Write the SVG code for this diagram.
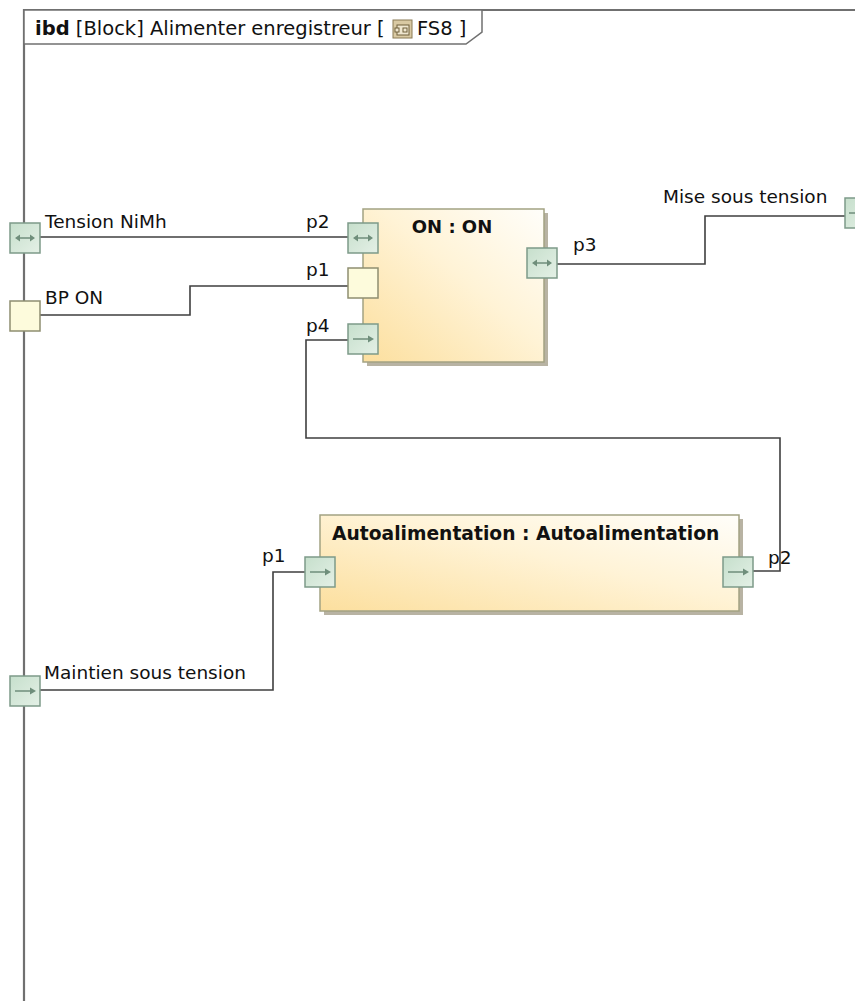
<svg xmlns="http://www.w3.org/2000/svg" width="855" height="1001" viewBox="0 0 855 1001">
<style>
.t{font-family:"DejaVu Sans",Verdana,sans-serif;font-size:18.5px;fill:#111}
.b{font-family:"DejaVu Sans",Verdana,sans-serif;font-size:18px;font-weight:bold;fill:#111}
.frame{fill:none;stroke:#707070;stroke-width:2.2}
.blk{stroke:#a3a283;stroke-width:1.5}
.shadow{fill:#b8b3a3}
.pg{fill:url(#pg);stroke:#7d9a89;stroke-width:1.5}
.py{fill:#fdfbdc;stroke:#8e8e70;stroke-width:1.5}
.ar{stroke:#6f8e7b;stroke-width:1.5;fill:none}
.ah{fill:#6f8e7b}
.c{fill:none;stroke:#3f3f3f;stroke-width:1.6}
</style>
<defs>
<linearGradient id="og" x1="0" y1="1" x2="1" y2="0">
<stop offset="0" stop-color="#fcdf9e"/>
<stop offset="0.55" stop-color="#fff3d6"/>
<stop offset="1" stop-color="#fffefa"/>
</linearGradient>
<linearGradient id="pg" x1="0" y1="0" x2="1" y2="1">
<stop offset="0" stop-color="#c6dfcc"/>
<stop offset="1" stop-color="#e4f0e6"/>
</linearGradient>
</defs>
<rect width="855" height="1001" fill="#ffffff"/>
<g id="frame">
<path class="frame" d="M24,1001 V10 H855"/>
<path d="M24,10 H482 V32 L466,44 H24 Z" fill="#ffffff" stroke="#707070" stroke-width="1.5"/>
<text class="t" x="35" y="35" style="font-size:19.5px"><tspan font-weight="bold">ibd</tspan> [Block] Alimenter enregistreur [</text>
<g id="icon">
<rect x="393" y="20" width="19" height="18" fill="#d9c9a3" stroke="#8a7a55" stroke-width="1"/>
<rect x="397" y="25" width="12" height="10" fill="#efe6cf" stroke="#6f5f3a" stroke-width="1"/>
<rect x="395" y="28" width="4" height="4" fill="#efe6cf" stroke="#6f5f3a" stroke-width="1"/>
<rect x="403" y="28" width="4" height="4" fill="none" stroke="#6f5f3a" stroke-width="1"/>
</g>
<text class="t" x="417" y="35" style="font-size:19.5px">FS8 ]</text>
</g>
<g id="connectors">
<path class="c" d="M40,237 H348"/>
<path class="c" d="M40,315 H190 V286 H348"/>
<path class="c" d="M348,340 H306 V438 H780 V571 H753"/>
<path class="c" d="M557,264 H705 V216 H845"/>
<path class="c" d="M40,690 H273 V572 H305"/>
</g>
<g id="block-on">
<rect class="shadow" x="367" y="213" width="181" height="153"/>
<rect class="blk" x="363" y="209" width="181" height="153" fill="url(#og)"/>
<text class="b" x="452" y="233" text-anchor="middle">ON : ON</text>
</g>
<g id="block-auto">
<rect class="shadow" x="324" y="519" width="419" height="96"/>
<rect class="blk" x="320" y="515" width="419" height="96" fill="url(#og)"/>
<text class="b" x="332" y="540" style="font-size:18.7px">Autoalimentation : Autoalimentation</text>
</g>
<g id="port-tension-nimh">
<rect class="pg" x="10" y="223" width="30" height="30"/>
<path class="ar" d="M17,238 H33"/>
<path class="ah" d="M15,238 l5,-3.5 v7 z M35,238 l-5,-3.5 v7 z"/>
<text class="t" x="45" y="228">Tension NiMh</text>
</g>
<g id="port-bp-on">
<rect class="py" x="10" y="301" width="30" height="30"/>
<text class="t" x="45" y="304">BP ON</text>
</g>
<g id="port-maintien">
<rect class="pg" x="10" y="676" width="30" height="30"/>
<path class="ar" d="M15,691 H32"/>
<path class="ah" d="M36,691 l-6,-3.5 v7 z"/>
<text class="t" x="44" y="679">Maintien sous tension</text>
</g>
<g id="port-mise-sous-tension">
<rect class="pg" x="845" y="198" width="30" height="30"/>
<path class="ar" d="M849,213 H866"/>
<text class="t" x="663" y="203">Mise sous tension</text>
</g>
<g id="on-p2">
<rect class="pg" x="348" y="223" width="30" height="30"/>
<path class="ar" d="M355,238 H371"/>
<path class="ah" d="M353,238 l5,-3.5 v7 z M373,238 l-5,-3.5 v7 z"/>
<text class="t" x="306" y="228">p2</text>
</g>
<g id="on-p1">
<rect class="py" x="348" y="268" width="30" height="30"/>
<text class="t" x="306" y="276">p1</text>
</g>
<g id="on-p4">
<rect class="pg" x="348" y="324" width="30" height="30"/>
<path class="ar" d="M353,339 H370"/>
<path class="ah" d="M374,339 l-6,-3.5 v7 z"/>
<text class="t" x="306" y="332">p4</text>
</g>
<g id="on-p3">
<rect class="pg" x="527" y="248" width="30" height="30"/>
<path class="ar" d="M534,263 H550"/>
<path class="ah" d="M532,263 l5,-3.5 v7 z M552,263 l-5,-3.5 v7 z"/>
<text class="t" x="573" y="251">p3</text>
</g>
<g id="auto-p1">
<rect class="pg" x="305" y="557" width="30" height="30"/>
<path class="ar" d="M310,572 H327"/>
<path class="ah" d="M331,572 l-6,-3.5 v7 z"/>
<text class="t" x="262" y="562">p1</text>
</g>
<g id="auto-p2">
<rect class="pg" x="723" y="557" width="30" height="30"/>
<path class="ar" d="M728,572 H745"/>
<path class="ah" d="M749,572 l-6,-3.5 v7 z"/>
<text class="t" x="768" y="564">p2</text>
</g>
</svg>
